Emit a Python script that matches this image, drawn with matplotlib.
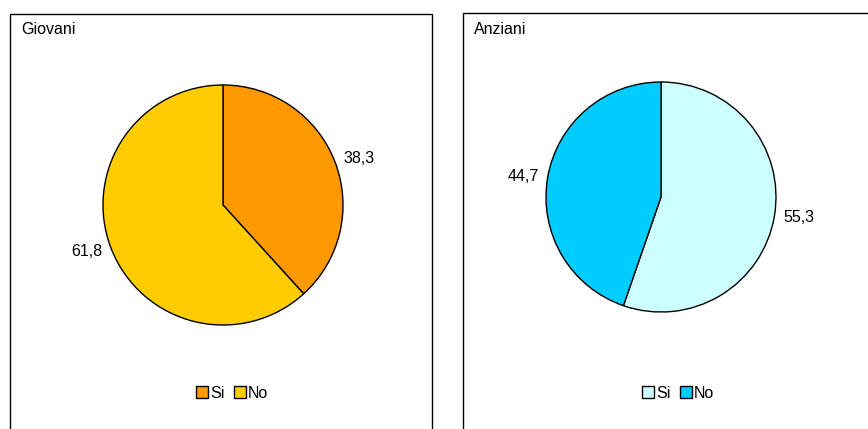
import matplotlib.pyplot as plt
from matplotlib.patches import Rectangle

plt.rcParams['font.family'] = ['Liberation Sans', 'DejaVu Sans']

# ---------------- DATA ----------------
categories = ["Si", "No"]
giovani = [38.3, 61.8]
anziani = [55.3, 44.7]
giovani_labels = ["38,3", "61,8"]
anziani_labels = ["55,3", "44,7"]
giovani_colors = ["#FF9900", "#FFCC00"]
anziani_colors = ["#CCFFFF", "#00CCFF"]

W, H = 868, 429
FS = 11.5
fig = plt.figure(figsize=(W / 100, H / 100), dpi=100)


def px_axes(x0, y0, w, h):
    # pixel box (top-left origin) -> figure fraction
    return fig.add_axes([x0 / W, 1 - (y0 + h) / H, w / W, h / H])


def panel(box, pie_box, title, values, labels, colors, legend_xy, ldist):
    bx0, by0, bx1 = box
    fig.add_artist(Rectangle((bx0 / W, -0.1), (bx1 - bx0) / W, 1.1 - by0 / H,
                             transform=fig.transFigure, fill=False,
                             edgecolor="black", lw=1.0, clip_on=False))
    fig.text((bx0 + 11) / W, 1 - 30 / H, title, fontsize=FS, va="center")

    ax = px_axes(*pie_box)
    wedges, texts = ax.pie(values, labels=labels, colors=colors, startangle=90,
                           counterclock=False, labeldistance=ldist,
                           wedgeprops=dict(edgecolor="black", linewidth=1.0),
                           textprops=dict(fontsize=FS))
    ax.set_xlim(-1, 1)
    ax.set_ylim(-1, 1)
    ax.set_aspect("equal")
    ax.legend(wedges, categories, ncol=2, loc="center",
              bbox_to_anchor=(legend_xy[0] / W, 1 - legend_xy[1] / H),
              bbox_transform=fig.transFigure, frameon=False,
              fontsize=FS, handlelength=0.75, handleheight=0.75,
              handletextpad=0.15, columnspacing=0.6)
    return ax


panel((10, 14, 432), (103, 85, 240, 240), "Giovani", giovani, giovani_labels,
      giovani_colors, (232, 393), 1.08)
panel((463, 13, 880), (546, 82, 230, 230), "Anziani", anziani, anziani_labels,
      anziani_colors, (678, 393), 1.08)

plt.savefig("out.png", dpi=100)
